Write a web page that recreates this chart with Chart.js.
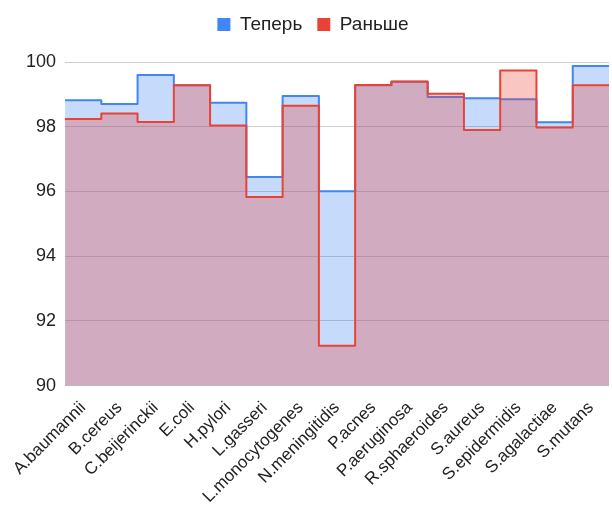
<!DOCTYPE html>
<html>
<head>
<meta charset="utf-8">
<script src="https://cdn.jsdelivr.net/npm/chart.js@4"></script>
<style>
  html, body { margin: 0; padding: 0; background: #fff; }
  #wrap { width: 612px; height: 515px; }
</style>
</head>
<body>
<div id="wrap"><canvas id="chart"></canvas></div>
<script>
const categories = ["A.baumannii", "B.cereus", "C.beijerinckii", "E.coli", "H.pylori", "L.gasseri",
    "L.monocytogenes", "N.meningitidis", "P.acnes", "P.aeruginosa", "R.sphaeroides", "S.aureus",
    "S.epidermidis", "S.agalactiae", "S.mutans"];
const nowValues = [98.82, 98.70, 99.60, 99.28, 98.74, 96.45, 98.95, 96.01, 99.28, 99.39, 98.92, 98.88, 98.85, 98.14, 99.88];
const beforeValues = [98.24, 98.41, 98.15, 99.28, 98.04, 95.83, 98.65, 91.23, 99.29, 99.40, 99.02, 97.90, 99.74, 97.98, 99.28];
const yTicks = [90, 92, 94, 96, 98, 100];

// each category is one band [i, i+1]; the last value is repeated to close the band
function toSteps(values) {
    let pts = values.map(function(v, i) { return {x: i, y: v}; });
    pts.push({x: values.length, y: values[values.length - 1]});
    return pts;
}

Chart.defaults.font.family = "'Liberation Sans', Arial, sans-serif";
Chart.defaults.font.size = 18;
Chart.defaults.color = "#222";

// keeps the legend a bit away from the plot
const legendGap = {
    id: "legendGap",
    beforeInit: function(chart) {
        let fit = chart.legend.fit;
        chart.legend.fit = function() {
            fit.bind(chart.legend)();
            this.height += 18;
        };
    }
};

let ctx = document.getElementById("chart");
let chart = new Chart(ctx, {
    type: "line",
    plugins: [legendGap],
    data: {
        datasets: [
            {
                label: "Теперь",
                data: toSteps(nowValues),
                borderColor: "#4285f4",
                backgroundColor: "rgba(66,133,244,0.3)",
                borderWidth: 2,
                stepped: true,
                fill: "start",
                pointRadius: 0,
                borderJoinStyle: "round",
                order: 1
            },
            {
                label: "Раньше",
                data: toSteps(beforeValues),
                borderColor: "#ea4335",
                backgroundColor: "rgba(234,67,53,0.3)",
                borderWidth: 2,
                stepped: true,
                fill: "start",
                pointRadius: 0,
                borderJoinStyle: "round",
                order: 0
            }
        ]
    },
    options: {
        responsive: true,
        maintainAspectRatio: false,
        animation: false,
        layout: { padding: { left: 17, right: 3, top: 0, bottom: 4 } },
        plugins: {
            tooltip: { enabled: false },
            legend: {
                position: "top",
                labels: {
                    boxWidth: 13,
                    boxHeight: 13,
                    padding: 15,
                    font: { size: 19 },
                    sort: function(a, b) { return a.datasetIndex - b.datasetIndex; },
                    generateLabels: function(c) {
                        let items = Chart.defaults.plugins.legend.labels.generateLabels(c);
                        items.forEach(function(it) {
                            it.fillStyle = c.data.datasets[it.datasetIndex].borderColor;
                            it.lineWidth = 0;
                        });
                        return items;
                    }
                }
            }
        },
        scales: {
            x: {
                type: "linear",
                min: 0,
                max: categories.length,
                grid: { display: false },
                border: { display: false },
                afterBuildTicks: function(scale) {
                    scale.ticks = categories.map(function(c, i) { return {value: i + 0.5}; });
                },
                ticks: {
                    autoSkip: false,
                    minRotation: 45,
                    maxRotation: 45,
                    padding: 4,
                    font: { size: 17 },
                    callback: function(value) { return categories[Math.round(value - 0.5)]; }
                }
            },
            y: {
                min: 90,
                max: 100,
                afterBuildTicks: function(scale) {
                    scale.ticks = yTicks.map(function(v) { return {value: v}; });
                },
                grid: { color: "#cccccc", drawTicks: false },
                border: { display: false },
                ticks: { padding: 9 }
            }
        }
    }
});
</script>
</body>
</html>
